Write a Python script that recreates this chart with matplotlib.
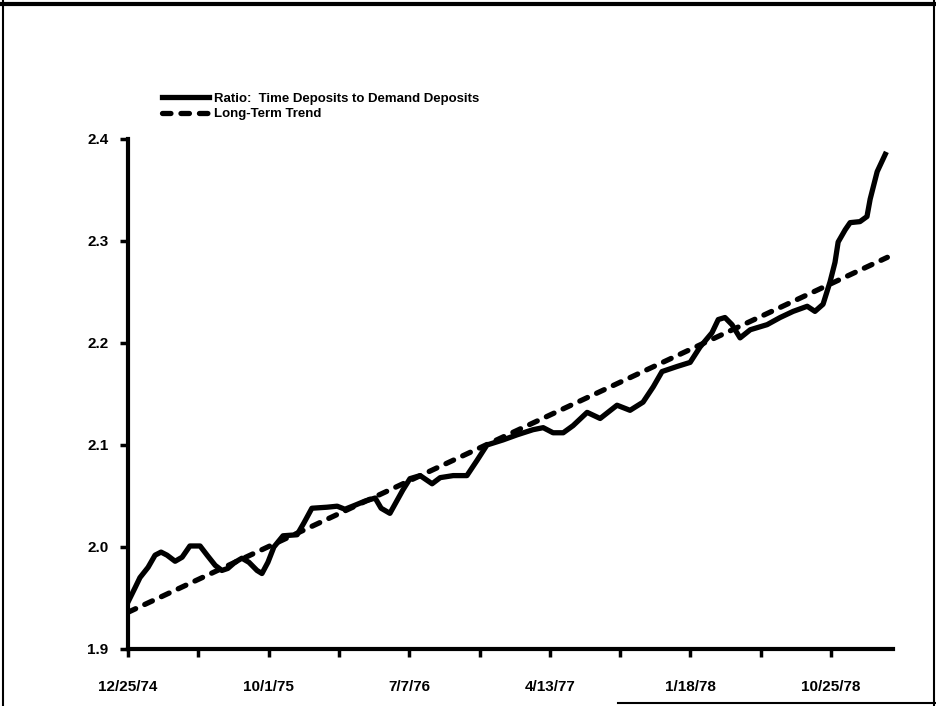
import numpy as np
import matplotlib.pyplot as plt
from matplotlib.lines import Line2D

# weeks since 12/25/74 and ratio values
weeks = [0, 2.0, 3.4, 5.7, 7.7, 9.4, 11.1, 13.4, 15.4, 17.6, 20.5, 22.5, 24.8, 26.7,
         28.4, 30.4, 32.4, 34.4, 36.7, 38.1, 39.8, 41.5, 44.1, 48.1, 50.1, 52.3,
         56.6, 59.5, 61.7, 64.6, 67.4, 70.3, 72.0, 74.5, 78.2, 80.2, 83.1, 86.5,
         88.8, 92.5, 96.4, 99.3, 102.1, 106.7, 110.7, 115.2, 118.1, 120.9, 123.8,
         126.6, 130.6, 134.3, 139.1, 142.8, 146.5, 149.4, 151.9, 156.2, 159.9,
         162.7, 166.1, 167.9, 169.8, 171.8, 174.1, 177.0, 181.8, 185.5, 189.2,
         193.2, 195.4, 197.7, 199.7, 201.1, 202.0, 204.0, 205.4, 208.2, 210.2,
         211.1, 213.1, 215.4]
ratio = [1.946, 1.960, 1.970, 1.980, 1.992, 1.995, 1.992, 1.986, 1.990, 2.001, 2.001,
         1.992, 1.982, 1.977, 1.979, 1.985, 1.989, 1.985, 1.977, 1.974, 1.985, 2.000,
         2.011, 2.012, 2.024, 2.038, 2.039, 2.040, 2.037, 2.041, 2.045, 2.048, 2.038,
         2.033, 2.056, 2.067, 2.070, 2.062, 2.068, 2.070, 2.070, 2.085, 2.100, 2.105,
         2.110, 2.115, 2.117, 2.112, 2.112, 2.119, 2.132, 2.126, 2.139, 2.134, 2.142,
         2.157, 2.172, 2.177, 2.181, 2.196, 2.210, 2.223, 2.225, 2.218, 2.205, 2.213,
         2.218, 2.225, 2.231, 2.236, 2.231, 2.238, 2.260, 2.279, 2.299, 2.311, 2.318,
         2.319, 2.324, 2.341, 2.368, 2.385]

# long-term trend (straight line) end points
trend_weeks = [0, 216]
trend_vals = [1.936, 2.284]

tick_weeks = [0, 40, 80, 120, 160, 200]
tick_labels = ['12/25/74', '10/1/75', '7/7/76', '4/13/77', '1/18/78', '10/25/78']
minor_weeks = [20, 60, 100, 140, 180]
y_ticks = [1.9, 2.0, 2.1, 2.2, 2.3, 2.4]

fnt = ['Liberation Sans Narrow', 'Liberation Sans', 'DejaVu Sans']

fig = plt.figure(figsize=(9.37, 7.06), dpi=100)
ax = fig.add_axes([128 / 937, 1 - 649 / 706, (893 - 128) / 937, (649 - 139) / 706])

ax.plot(weeks, ratio, color='black', linewidth=3.8, solid_joinstyle='round',
        label='Ratio:  Time Deposits to Demand Deposits', zorder=3)
ax.plot(trend_weeks, trend_vals, color='black', linewidth=3.8, linestyle=(0, (1.6, 1.9)),
        dash_capstyle='round', label='Long-Term Trend', zorder=2)

ax.set_xlim(0, 217.6)
ax.set_ylim(1.9, 2.4)
ax.set_xticks(tick_weeks)
ax.set_xticklabels(tick_labels)
ax.set_xticks(minor_weeks, minor=True)
ax.set_yticks(y_ticks)
ax.set_yticklabels(['%.1f' % v for v in y_ticks])

for s in ['top', 'right']:
    ax.spines[s].set_visible(False)
for s in ['left', 'bottom']:
    ax.spines[s].set_linewidth(3)
ax.tick_params(axis='both', which='both', direction='out', length=6, width=2.5)
ax.tick_params(axis='x', pad=16)
ax.tick_params(axis='y', pad=8)
for lab in ax.get_xticklabels() + ax.get_yticklabels():
    lab.set_fontfamily(fnt)
    lab.set_fontweight('bold')
    lab.set_fontsize(11)

leg = ax.legend(loc='upper left', bbox_to_anchor=(155 / 937, 1 - 86 / 706),
                bbox_transform=fig.transFigure, frameon=False, handlelength=3.6,
                handletextpad=0.4, labelspacing=0.25, borderpad=0,
                prop={'family': fnt, 'weight': 'bold', 'size': 9.5})

# scanned page frame
fig.add_artist(Line2D([0, 1], [0.995, 0.995], color='black', linewidth=3))
fig.add_artist(Line2D([0.003, 0.003], [0, 1], color='black', linewidth=1.5))
fig.add_artist(Line2D([0.997, 0.997], [0, 1], color='black', linewidth=1.5))
fig.add_artist(Line2D([0.66, 1], [0.004, 0.004], color='black', linewidth=1.5))

fig.savefig('out.png', dpi=100)
